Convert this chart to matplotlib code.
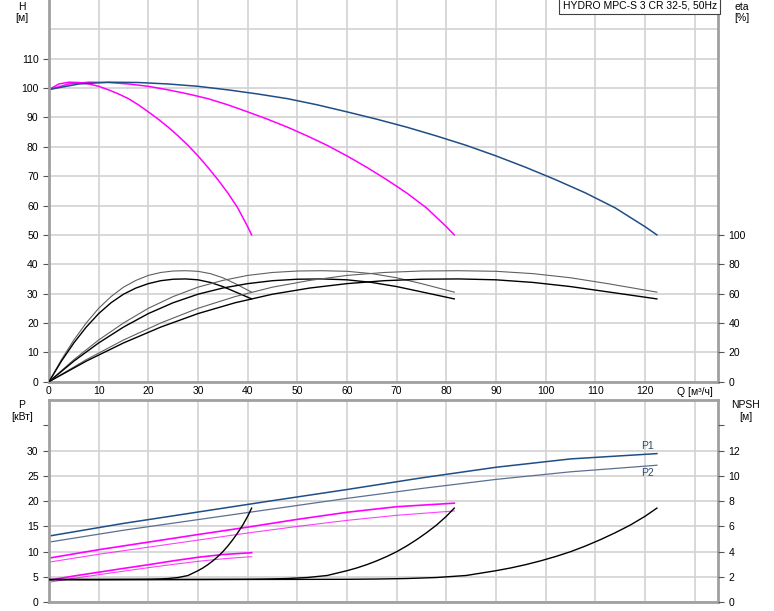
import matplotlib.pyplot as plt
import numpy as np

plt.rcParams['font.family'] = ['Liberation Sans', 'DejaVu Sans']
plt.rcParams['font.size'] = 7.5

# Q/H curves for 1, 2 and 3 pumps running
q_h1 = [0, 2, 4, 6, 8, 10, 12, 14, 16, 18, 20, 22, 24, 26, 28, 30, 32, 34, 36, 38, 40, 40.8]
q_h2 = [0, 4, 8, 12, 16, 20, 24, 28, 32, 36, 40, 44, 48, 52, 56, 60, 64, 68, 72, 76, 80, 81.6]
q_h3 = [0, 6, 12, 18, 24, 30, 36, 42, 48, 54, 60, 66, 72, 78, 84, 90, 96, 102, 108, 114, 120, 122.4]
head = [99.5, 101.4, 102.0, 101.9, 101.4, 100.6, 99.4, 98.0, 96.4, 94.3, 91.9,
        89.4, 86.7, 83.7, 80.5, 76.9, 73.0, 68.8, 64.3, 59.2, 52.8, 50.0]

# efficiency curves [%]
q_e1 = [0, 2.5, 5, 7.5, 10, 12.5, 15, 17.5, 20, 22.5, 25, 27.5, 30, 32.5, 35, 37.5, 40.8]
q_e2 = [0, 5, 10, 15, 20, 25, 30, 35, 40, 45, 50, 55, 60, 65, 70, 75, 81.6]
q_e3 = [0, 7.5, 15, 22.5, 30, 37.5, 45, 52.5, 60, 67.5, 75, 82.5, 90, 97.5, 105, 112.5, 122.4]
eta_upper = [0, 15, 28.4, 40, 50, 58, 64.4, 69, 72.4, 74.4, 75.4, 75.6, 75.2, 73.6, 70.8, 66.8, 61]
eta_lower = [0, 14, 26.4, 37.2, 46.4, 53.8, 59.6, 63.8, 66.8, 68.8, 69.8, 70, 69.4, 67.6, 64.8, 61.2, 56.4]

# power curves [kW]
q_p1 = [0, 5, 10, 15, 20, 25, 30, 35, 40.8]
q_p2 = [0, 10, 20, 30, 40, 50, 60, 70, 81.6]
q_p3 = [0, 15, 30, 45, 60, 75, 90, 105, 122.4]
p1_1 = [4.37, 5.2, 5.95, 6.7, 7.43, 8.2, 8.9, 9.45, 9.8]
p2_1 = [3.97, 4.75, 5.45, 6.15, 6.85, 7.5, 8.1, 8.6, 9.03]
p1_2 = [8.74, 10.4, 11.9, 13.4, 14.86, 16.4, 17.8, 18.9, 19.6]
p2_2 = [7.94, 9.5, 10.9, 12.3, 13.7, 15.0, 16.2, 17.2, 18.06]
p1_3 = [13.1, 15.6, 17.85, 20.1, 22.3, 24.6, 26.7, 28.35, 29.4]
p2_3 = [11.9, 14.25, 16.35, 18.45, 20.55, 22.5, 24.3, 25.8, 27.1]

# NPSH [m]
q_n1 = [0, 5, 10, 15, 20, 22, 24, 26, 28, 30, 31, 32, 33, 34, 35, 36, 37, 38, 39, 40, 40.8]
q_n2 = [0, 10, 20, 30, 40, 44, 48, 52, 56, 60, 62, 64, 66, 68, 70, 72, 74, 76, 78, 80, 81.6]
q_n3 = [0, 15, 30, 45, 60, 66, 72, 78, 84, 90, 93, 96, 99, 102, 105, 108, 111, 114, 117, 120, 122.4]
npsh = [1.80, 1.80, 1.80, 1.81, 1.82, 1.84, 1.88, 1.96, 2.12, 2.5, 2.72, 2.98,
        3.28, 3.62, 4.0, 4.45, 4.95, 5.5, 6.1, 6.8, 7.45]

BLUE = '#1f4e86'
BLUE2 = '#5b7090'
MAG = '#ff00ff'
GRID = '#d2d2d2'
SPINE = '#a0a0a0'
TICK = '#555555'

fig = plt.figure(figsize=(7.74, 6.11), dpi=100)
ax_h = fig.add_axes([49 / 774, 1 - 381.7 / 611, 669 / 774, 381.7 / 611])
ax_p = fig.add_axes([49 / 774, 1 - 602.3 / 611, 669 / 774, 202.3 / 611])


def style(ax):
    ax.set_xlim(0, 134.7)
    ax.set_xticks(range(0, 140, 10))
    ax.grid(True, color=GRID, lw=1.2)
    ax.set_axisbelow(True)
    for s in ax.spines.values():
        s.set_color(SPINE)
        s.set_linewidth(2)
    ax.tick_params(axis='x', length=0, pad=3)
    ax.tick_params(axis='y', which='both', direction='out', length=4, color=TICK, width=0.8)


style(ax_h)
style(ax_p)
ax_h.spines['top'].set_visible(False)

# top panel: head
ax_h.set_ylim(0, 130)
ax_h.set_yticks(range(0, 120, 10))
ax_h.axhline(120, color=GRID, lw=1.2, zorder=0.5)
ax_h.set_xticklabels([str(v) if v <= 120 else '' for v in range(0, 140, 10)])

ax_h.plot(q_h1, head, color=MAG, lw=1.1)
ax_h.plot(q_h2, head, color=MAG, lw=1.1)
ax_h.plot(q_h3, head, color=BLUE, lw=1.1)

ax_e = ax_h.twinx()
ax_e.set_ylim(0, 260)
ax_e.set_yticks(range(0, 101, 20))
ax_e.tick_params(axis='y', direction='out', length=4, color=TICK, width=0.8)
for s in ax_e.spines.values():
    s.set_visible(False)
for q in (q_e1, q_e2, q_e3):
    ax_e.plot(q, eta_upper, color='#606060', lw=0.8)
    ax_e.plot(q, eta_lower, color='black', lw=1.0)

ax_e.text(0.998, 0.999, 'HYDRO MPC-S 3 CR 32-5, 50Hz', transform=ax_e.transAxes,
          ha='right', va='top', fontsize=7.5, zorder=10,
          bbox=dict(boxstyle='square,pad=0.3', facecolor='white', edgecolor='#404040', lw=0.8))

# bottom panel: power
ax_p.set_ylim(0, 40)
ax_p.set_yticks(range(0, 31, 5))
ax_p.set_yticks([35], minor=True)
ax_p.set_xticklabels([])

ax_p.plot(q_p1, p1_1, color=MAG, lw=1.2)
ax_p.plot(q_p1, p2_1, color=MAG, lw=0.8, alpha=0.75)
ax_p.plot(q_p2, p1_2, color=MAG, lw=1.2)
ax_p.plot(q_p2, p2_2, color=MAG, lw=0.8, alpha=0.75)
ax_p.plot(q_p3, p1_3, color=BLUE, lw=1.1)
ax_p.plot(q_p3, p2_3, color=BLUE2, lw=0.9)
ax_p.text(120.5, p1_3[-1] + 0.6, 'P1', color='#2a4a70', ha='center', va='bottom', fontsize=7.5)
ax_p.text(120.5, p2_3[-1] - 0.6, 'P2', color='#2a4a70', ha='center', va='top', fontsize=7.5)

ax_n = ax_p.twinx()
ax_n.set_ylim(0, 16)
ax_n.set_yticks(range(0, 13, 2))
ax_n.set_yticks([14], minor=True)
ax_n.tick_params(axis='y', which='both', direction='out', length=4, color=TICK, width=0.8)
for s in ax_n.spines.values():
    s.set_visible(False)
for q in (q_n1, q_n2, q_n3):
    ax_n.plot(q, npsh, color='black', lw=1.0)

# axis captions
fig.text(22 / 774, 1 - 7 / 611, 'H', ha='center', va='center')
fig.text(22 / 774, 1 - 18 / 611, '[м]', ha='center', va='center')
fig.text(742 / 774, 1 - 7 / 611, 'eta', ha='center', va='center')
fig.text(742 / 774, 1 - 18 / 611, '[%]', ha='center', va='center')
fig.text(22 / 774, 1 - 405 / 611, 'P', ha='center', va='center')
fig.text(22 / 774, 1 - 417 / 611, '[кВт]', ha='center', va='center')
fig.text(746 / 774, 1 - 405 / 611, 'NPSH', ha='center', va='center')
fig.text(746 / 774, 1 - 417 / 611, '[м]', ha='center', va='center')
fig.text(713 / 774, 1 - 392 / 611, 'Q [м³/ч]', ha='right', va='center')

fig.savefig('out.png', dpi=100)
